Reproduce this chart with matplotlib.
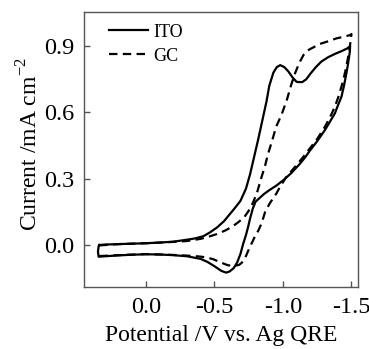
import matplotlib
matplotlib.use("Agg")
import matplotlib.pyplot as plt

plt.rcParams['font.family'] = ['Liberation Serif', 'DejaVu Serif']
plt.rcParams['mathtext.fontset'] = 'custom'
plt.rcParams['mathtext.rm'] = 'Liberation Serif'

# ITO: forward scan (toward -1.5 V) then reverse scan back
ito_v = [0.34, 0.30, 0.20, 0.10, 0.00, -0.10, -0.20, -0.30, -0.36, -0.42, -0.47,
         -0.52, -0.57, -0.61, -0.65, -0.69, -0.73, -0.76, -0.79, -0.82, -0.85,
         -0.88, -0.90, -0.93, -0.955, -0.98, -1.01, -1.04, -1.07, -1.10, -1.14,
         -1.17, -1.20, -1.24, -1.28, -1.33, -1.38, -1.43, -1.47, -1.49,
         -1.488, -1.475, -1.463, -1.445, -1.427, -1.40, -1.379, -1.34, -1.306, -1.25,
         -1.20, -1.16, -1.12, -1.06, -1.00, -0.95, -0.90, -0.86, -0.83, -0.80,
         -0.78, -0.76, -0.745, -0.73, -0.71, -0.69, -0.665, -0.64, -0.61, -0.585,
         -0.55, -0.50, -0.45, -0.40, -0.30, -0.20, -0.10, 0.00, 0.10, 0.20,
         0.30, 0.345, 0.35, 0.345, 0.34]
ito_i = [0.000, 0.002, 0.004, 0.006, 0.008, 0.011, 0.015, 0.024, 0.030, 0.040, 0.058,
         0.080, 0.108, 0.138, 0.168, 0.200, 0.255, 0.320, 0.400, 0.480, 0.565,
         0.650, 0.720, 0.780, 0.805, 0.814, 0.805, 0.785, 0.758, 0.738, 0.737,
         0.750, 0.775, 0.805, 0.830, 0.850, 0.865, 0.878, 0.890, 0.900,
         0.875, 0.820, 0.777, 0.720, 0.671, 0.630, 0.596, 0.555, 0.520, 0.470,
         0.430, 0.395, 0.365, 0.325, 0.292, 0.268, 0.248, 0.230, 0.213, 0.196,
         0.165, 0.120, 0.080, 0.045, 0.006, -0.040, -0.080, -0.105, -0.120, -0.125,
         -0.117, -0.096, -0.077, -0.063, -0.051, -0.046, -0.043, -0.042, -0.044, -0.047,
         -0.051, -0.053, -0.030, -0.005, 0.000]

# GC
gc_v = [0.34, 0.20, 0.00, -0.20, -0.30, -0.40, -0.45, -0.52, -0.58, -0.63,
        -0.68, -0.72, -0.75, -0.78, -0.81, -0.84, -0.87, -0.89, -0.92, -0.95,
        -0.99, -1.03, -1.06, -1.09, -1.12, -1.15, -1.19, -1.27, -1.33, -1.39,
        -1.44, -1.49, -1.50,
        -1.495, -1.488, -1.476, -1.46, -1.44, -1.41, -1.379, -1.345, -1.306, -1.25,
        -1.20, -1.15, -1.09, -1.026, -0.98, -0.953, -0.904, -0.87, -0.844, -0.82,
        -0.795, -0.775, -0.759, -0.73, -0.70, -0.68, -0.65, -0.60, -0.55, -0.49,
        -0.44, -0.39, -0.30, -0.20, 0.00, 0.20, 0.34]
gc_i = [-0.002, 0.004, 0.008, 0.014, 0.018, 0.028, 0.036, 0.050, 0.066, 0.083,
        0.106, 0.128, 0.155, 0.190, 0.235, 0.300, 0.360, 0.410, 0.470, 0.535,
        0.590, 0.660, 0.725, 0.780, 0.825, 0.860, 0.884, 0.910, 0.922, 0.935,
        0.942, 0.950, 0.955,
        0.930, 0.897, 0.852, 0.800, 0.746, 0.680, 0.626, 0.580, 0.535, 0.480,
        0.440, 0.400, 0.355, 0.309, 0.265, 0.234, 0.189, 0.150, 0.098, 0.065,
        0.038, 0.012, -0.008, -0.050, -0.080, -0.090, -0.094, -0.092, -0.080, -0.064,
        -0.056, -0.052, -0.048, -0.045, -0.041, -0.046, -0.050]

xticks = [0.0, -0.5, -1.0, -1.5]
yticks = [0.0, 0.3, 0.6, 0.9]

fig = plt.figure(figsize=(3.69, 3.49), dpi=100)
ax = fig.add_axes([0.2276, 0.1777, 0.742, 0.787])

ax.plot(ito_v, ito_i, color='black', lw=1.6, label='ITO')
ax.plot(gc_v, gc_i, color='black', lw=1.6, ls=(0, (3.8, 2.4)), label='GC')

ax.set_xlim(0.452, -1.546)
ax.set_ylim(-0.19, 1.053)
ax.set_xticks(xticks)
ax.set_xticklabels([f"{t:.1f}" for t in xticks])
ax.set_yticks(yticks)
ax.set_yticklabels([f"{t:.1f}" for t in yticks])

ax.tick_params(direction='in', length=4, width=1, labelsize=17.5, colors='black',
               top=False, right=False, pad=7)
for s in ax.spines.values():
    s.set_color('#555555')
    s.set_linewidth(1.0)
ax.tick_params(color='#555555')

ax.set_xlabel('Potential /V vs. Ag QRE', fontsize=17)
ax.xaxis.set_label_coords(0.5, -0.138, transform=ax.transAxes)
ax.xaxis.label.set_va('top')
ax.set_ylabel('Current /mA cm$^{-2}$', fontsize=17)
ax.yaxis.set_label_coords(-0.152, 0.522, transform=ax.transAxes)

ax.legend(loc='upper left', frameon=False, fontsize=13, handlelength=2.15,
          handletextpad=0.3, labelspacing=0.4, borderaxespad=0.3,
          bbox_to_anchor=(0.045, 1.005))

fig.savefig('out.png', dpi=100)
